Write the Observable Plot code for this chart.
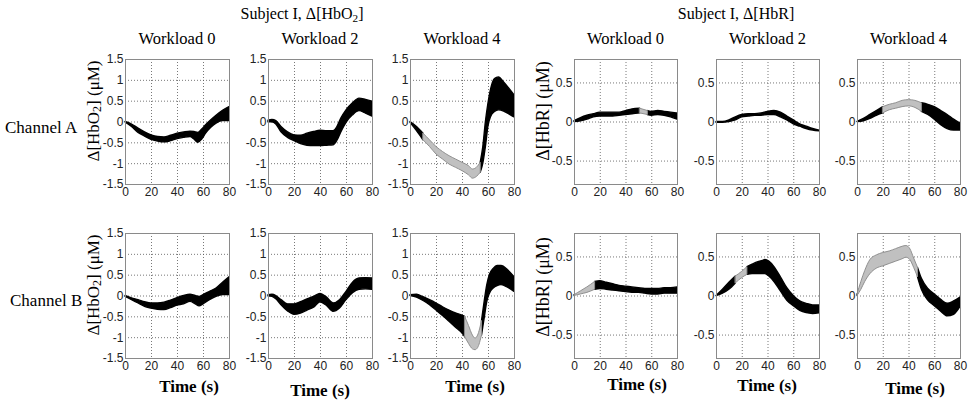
<!DOCTYPE html>
<html><head><meta charset="utf-8">
<script src="https://cdn.jsdelivr.net/npm/d3@7"></script>
<script src="https://cdn.jsdelivr.net/npm/@observablehq/plot@0.6"></script>
<style>
body{margin:0;background:#fff}
#wrap{position:relative;width:971px;height:400px;overflow:hidden;font-family:"Liberation Serif","Times New Roman",serif;color:#000}
.t{position:absolute;white-space:nowrap;transform:translate(-50%,-50%);line-height:1}
.yl{position:absolute;white-space:nowrap;transform:translate(-50%,-50%) rotate(-90deg);line-height:1}
sub{font-size:70%;vertical-align:-0.25em;line-height:0}
.p{position:absolute}
</style></head><body><div id="wrap"></div>
<script>
// ---- data (time in s, band upper/lower in µM, grey interval) ----
const timeTicks = [0, 20, 40, 60, 80];
const hbo2Ticks = [-1.5, -1, -0.5, 0, 0.5, 1, 1.5];
const hbrTicks = [-0.5, 0, 0.5];
const workloads = ["Workload 0", "Workload 2", "Workload 4"];
const channels = ["Channel A", "Channel B"];

// Channel A, HbO2
const a_hbo2_w0_t  = [0,5,10,15,20,25,30,35,40,45,50,53,56,59,62,66,70,75,80];
const a_hbo2_w0_hi = [0,-0.06,-0.16,-0.25,-0.32,-0.36,-0.37,-0.33,-0.28,-0.25,-0.23,-0.24,-0.26,-0.18,-0.08,0.04,0.15,0.27,0.36];
const a_hbo2_w0_lo = [-0.01,-0.12,-0.26,-0.35,-0.43,-0.47,-0.49,-0.46,-0.41,-0.38,-0.36,-0.42,-0.50,-0.42,-0.28,-0.14,-0.04,0.02,0.02];
const a_hbo2_w0_gray = null;

const a_hbo2_w2_t  = [0,3,6,10,15,20,25,30,35,40,45,50,53,56,60,65,70,75,80];
const a_hbo2_w2_hi = [0.03,0.05,0.02,-0.12,-0.25,-0.32,-0.33,-0.28,-0.24,-0.21,-0.22,-0.22,-0.12,0.08,0.28,0.45,0.56,0.53,0.49];
const a_hbo2_w2_lo = [-0.01,-0.01,-0.06,-0.25,-0.38,-0.46,-0.53,-0.57,-0.58,-0.58,-0.57,-0.56,-0.45,-0.25,-0.02,0.16,0.26,0.2,0.13];
const a_hbo2_w2_gray = null;

const a_hbo2_w4_t  = [0,5,10,15,20,25,30,35,40,45,48,51,54,56,58,60,62,65,68,72,76,80];
const a_hbo2_w4_hi = [0,-0.12,-0.28,-0.44,-0.6,-0.72,-0.82,-0.9,-0.98,-1.06,-1.14,-1.1,-0.98,-0.6,0.0,0.45,0.78,1.03,1.07,0.95,0.8,0.64];
const a_hbo2_w4_lo = [-0.02,-0.22,-0.44,-0.6,-0.78,-0.9,-1.02,-1.1,-1.18,-1.28,-1.36,-1.32,-1.22,-1.0,-0.6,-0.1,0.12,0.24,0.28,0.25,0.18,0.11];
const a_hbo2_w4_gray = [10, 54];

// Channel A, HbR
const a_hbr_w0_t  = [0,5,10,15,20,25,30,35,40,45,51,57,60,65,70,75,80];
const a_hbr_w0_hi = [0.01,0.05,0.08,0.1,0.12,0.12,0.12,0.12,0.14,0.16,0.17,0.14,0.13,0.14,0.13,0.12,0.11];
const a_hbr_w0_lo = [0,0.01,0.03,0.06,0.07,0.07,0.07,0.08,0.09,0.1,0.11,0.09,0.08,0.09,0.08,0.06,0.03];
const a_hbr_w0_gray = [51, 57];

const a_hbr_w2_t  = [0,5,10,15,20,25,30,35,40,45,50,55,60,65,70,75,80];
const a_hbr_w2_hi = [0.0,0.0,0.02,0.06,0.09,0.1,0.1,0.11,0.13,0.14,0.12,0.07,0.02,-0.03,-0.06,-0.09,-0.11];
const a_hbr_w2_lo = [-0.01,-0.01,0.0,0.02,0.06,0.07,0.08,0.08,0.09,0.09,0.06,0.02,-0.03,-0.06,-0.09,-0.11,-0.12];
const a_hbr_w2_gray = null;

const a_hbr_w4_t  = [0,5,10,15,20,25,30,35,40,45,50,55,60,65,70,75,80];
const a_hbr_w4_hi = [0,0.04,0.09,0.14,0.19,0.22,0.24,0.27,0.28,0.27,0.24,0.22,0.19,0.14,0.09,0.03,-0.02];
const a_hbr_w4_lo = [0,0.01,0.04,0.08,0.11,0.15,0.17,0.19,0.2,0.18,0.13,0.09,0.03,-0.04,-0.09,-0.11,-0.11];
const a_hbr_w4_gray = [20, 50];

// Channel B, HbO2
const b_hbo2_w0_t  = [0,5,10,15,20,25,30,35,40,45,50,54,57,60,65,70,75,80];
const b_hbo2_w0_hi = [0,-0.06,-0.1,-0.15,-0.18,-0.18,-0.16,-0.11,-0.05,0.0,0.03,0.0,-0.02,0.02,0.1,0.18,0.32,0.45];
const b_hbo2_w0_lo = [-0.02,-0.1,-0.18,-0.26,-0.3,-0.33,-0.34,-0.29,-0.23,-0.2,-0.14,-0.2,-0.25,-0.2,-0.1,-0.02,0.02,0.02];
const b_hbo2_w0_gray = null;

const b_hbo2_w2_t  = [0,3,6,10,15,20,25,30,35,40,45,50,55,60,65,70,75,80];
const b_hbo2_w2_hi = [0.02,0.03,0.0,-0.1,-0.2,-0.2,-0.15,-0.08,-0.02,0.05,-0.04,-0.18,-0.1,0.1,0.32,0.42,0.43,0.42];
const b_hbo2_w2_lo = [-0.01,-0.02,-0.08,-0.22,-0.37,-0.45,-0.42,-0.35,-0.28,-0.15,-0.24,-0.38,-0.3,-0.1,0.07,0.15,0.16,0.15];
const b_hbo2_w2_gray = null;

const b_hbo2_w4_t  = [0,5,10,15,20,25,30,35,40,42,45,48,50,52,55,57,59,61,64,67,70,75,80];
const b_hbo2_w4_hi = [0.02,0.03,-0.03,-0.1,-0.18,-0.27,-0.35,-0.42,-0.47,-0.5,-0.72,-0.95,-1.02,-0.95,-0.6,-0.15,0.25,0.5,0.65,0.72,0.72,0.62,0.45];
const b_hbo2_w4_lo = [0,-0.04,-0.12,-0.22,-0.35,-0.48,-0.62,-0.76,-0.9,-0.98,-1.15,-1.28,-1.3,-1.25,-0.95,-0.55,-0.15,0.05,0.18,0.24,0.26,0.2,0.1];
const b_hbo2_w4_gray = [42, 55];

// Channel B, HbR
const b_hbr_w0_t  = [0,5,10,16,20,25,30,35,40,45,50,55,60,65,70,75,80];
const b_hbr_w0_hi = [0.01,0.06,0.11,0.18,0.19,0.17,0.15,0.13,0.12,0.11,0.1,0.09,0.09,0.09,0.1,0.1,0.11];
const b_hbr_w0_lo = [0,0.02,0.04,0.08,0.09,0.08,0.07,0.06,0.05,0.04,0.04,0.03,0.02,0.02,0.03,0.03,0.03];
const b_hbr_w0_gray = [0, 16];

const b_hbr_w2_t  = [0,5,10,15,20,24,28,32,36,38,41,45,50,55,60,65,70,75,80];
const b_hbr_w2_hi = [0,0.08,0.17,0.25,0.31,0.37,0.4,0.43,0.45,0.46,0.44,0.37,0.24,0.1,0.0,-0.07,-0.1,-0.12,-0.12];
const b_hbr_w2_lo = [0,0.03,0.08,0.16,0.23,0.27,0.28,0.28,0.28,0.28,0.25,0.18,0.06,-0.06,-0.13,-0.19,-0.22,-0.23,-0.22];
const b_hbr_w2_gray = [15, 24];

const b_hbr_w4_t  = [0,3,6,10,15,20,25,30,35,38,41,44,47,50,55,60,65,70,75,80];
const b_hbr_w4_hi = [0.02,0.18,0.32,0.46,0.52,0.55,0.57,0.6,0.63,0.64,0.6,0.48,0.36,0.22,0.09,0.02,-0.05,-0.1,-0.07,-0.02];
const b_hbr_w4_lo = [0,0.08,0.18,0.28,0.35,0.38,0.41,0.44,0.47,0.49,0.46,0.36,0.24,0.08,-0.06,-0.13,-0.2,-0.26,-0.24,-0.14];
const b_hbr_w4_gray = [0, 47];

// ---- layout ----
const wrap = document.getElementById("wrap");
const colLeft = [125, 268, 410, 574, 716, 857];
const colW = [104, 104, 104, 103, 103, 103];
const rowTop = [59, 233];
const frameH = 125;
const mL = 40, mR = 6, mT = 6, mB = 26;

function rowsOf(t, hi, lo, gray) {
  const out = [];
  for (let i = 0; i < t.length; i++) {
    const base = {t: t[i], hi: hi[i], lo: lo[i]};
    if (!gray) { out.push({...base, seg: "b0"}); continue; }
    if (t[i] <= gray[0]) out.push({...base, seg: "b0"});
    if (t[i] >= gray[0] && t[i] <= gray[1]) out.push({...base, seg: "g"});
    if (t[i] >= gray[1]) out.push({...base, seg: "b1"});
  }
  return out;
}

const panels = [
  [a_hbo2_w0_t, a_hbo2_w0_hi, a_hbo2_w0_lo, a_hbo2_w0_gray, 0, 0],
  [a_hbo2_w2_t, a_hbo2_w2_hi, a_hbo2_w2_lo, a_hbo2_w2_gray, 0, 1],
  [a_hbo2_w4_t, a_hbo2_w4_hi, a_hbo2_w4_lo, a_hbo2_w4_gray, 0, 2],
  [a_hbr_w0_t, a_hbr_w0_hi, a_hbr_w0_lo, a_hbr_w0_gray, 0, 3],
  [a_hbr_w2_t, a_hbr_w2_hi, a_hbr_w2_lo, a_hbr_w2_gray, 0, 4],
  [a_hbr_w4_t, a_hbr_w4_hi, a_hbr_w4_lo, a_hbr_w4_gray, 0, 5],
  [b_hbo2_w0_t, b_hbo2_w0_hi, b_hbo2_w0_lo, b_hbo2_w0_gray, 1, 0],
  [b_hbo2_w2_t, b_hbo2_w2_hi, b_hbo2_w2_lo, b_hbo2_w2_gray, 1, 1],
  [b_hbo2_w4_t, b_hbo2_w4_hi, b_hbo2_w4_lo, b_hbo2_w4_gray, 1, 2],
  [b_hbr_w0_t, b_hbr_w0_hi, b_hbr_w0_lo, b_hbr_w0_gray, 1, 3],
  [b_hbr_w2_t, b_hbr_w2_hi, b_hbr_w2_lo, b_hbr_w2_gray, 1, 4],
  [b_hbr_w4_t, b_hbr_w4_hi, b_hbr_w4_lo, b_hbr_w4_gray, 1, 5]
];

for (const [t, hi, lo, gray, r, c] of panels) {
  const isO2 = c < 3;
  const rows = rowsOf(t, hi, lo, gray);
  const fw = colW[c];
  const svg = Plot.plot({
    width: mL + fw + mR,
    height: mT + frameH + mB,
    marginLeft: mL, marginRight: mR, marginTop: mT, marginBottom: mB,
    style: {fontFamily: "'Liberation Sans', Arial, sans-serif", fontSize: "12px", color: "#222", background: "transparent", overflow: "visible"},
    x: {domain: [0, 80], ticks: timeTicks, tickSize: 0, tickPadding: 3, label: null, tickFormat: d => String(d)},
    y: {domain: isO2 ? [-1.5, 1.5] : [-0.8, 0.8], ticks: isO2 ? hbo2Ticks : hbrTicks, tickSize: 0, tickPadding: 2, label: null, tickFormat: d => String(d)},
    marks: [
      Plot.gridX(timeTicks.slice(1, -1), {stroke: "#555", strokeOpacity: 1, strokeWidth: 0.8, strokeDasharray: "1,2"}),
      Plot.gridY(isO2 ? hbo2Ticks.slice(1, -1) : hbrTicks, {stroke: "#555", strokeOpacity: 1, strokeWidth: 0.8, strokeDasharray: "1,2"}),
      Plot.areaY(rows.filter(d => d.seg !== "g"), {x: "t", y1: "lo", y2: "hi", z: "seg", fill: "#000", stroke: "#000", strokeWidth: 1.4, strokeLinejoin: "round", curve: "monotone-x"}),
      Plot.areaY(rows.filter(d => d.seg === "g"), {x: "t", y1: "lo", y2: "hi", fill: "#c0c0c0", stroke: "#909090", strokeWidth: 1, strokeLinejoin: "round", curve: "monotone-x"}),
      Plot.frame({stroke: "#8a8a8a", strokeWidth: 1})
    ]
  });
  svg.classList.add("p");
  svg.style.left = (colLeft[c] - mL) + "px";
  svg.style.top = (rowTop[r] - mT) + "px";
  wrap.appendChild(svg);
}

// ---- text ----
function txt(html, x, y, cls, style) {
  const d = document.createElement("div");
  d.className = cls || "t";
  d.innerHTML = html;
  d.style.left = x + "px";
  d.style.top = y + "px";
  Object.assign(d.style, style || {});
  wrap.appendChild(d);
}
txt("Subject I, &Delta;[HbO<sub>2</sub>]", 302, 14, "t", {fontSize: "16px"});
txt("Subject I, &Delta;[HbR]", 736, 14, "t", {fontSize: "16px"});
for (let c = 0; c < 6; c++) {
  txt(workloads[c % 3], colLeft[c] + colW[c] / 2, 39, "t", {fontSize: "16.5px"});
}
txt(channels[0], 5, 127, "t", {fontSize: "17px", transform: "translate(0,-50%)"});
txt(channels[1], 10, 300, "t", {fontSize: "17px", transform: "translate(0,-50%)"});
const ylO2 = "&Delta;[HbO<sub>2</sub>] (&mu;M)";
const ylR = "&Delta;[HbR] (&mu;M)";
txt(ylO2, 93, 111, "yl", {fontSize: "17px"});
txt(ylO2, 93, 285, "yl", {fontSize: "17px"});
txt(ylR, 543, 111, "yl", {fontSize: "18px"});
txt(ylR, 543, 287, "yl", {fontSize: "18px"});
const timeX = [189, 320, 475, 637, 767, 915];
const timeY = [386, 390, 386, 384, 385, 388];
for (let c = 0; c < 6; c++) {
  txt("Time (s)", timeX[c], timeY[c], "t", {fontSize: "17px", fontWeight: "bold"});
}
</script></body></html>
